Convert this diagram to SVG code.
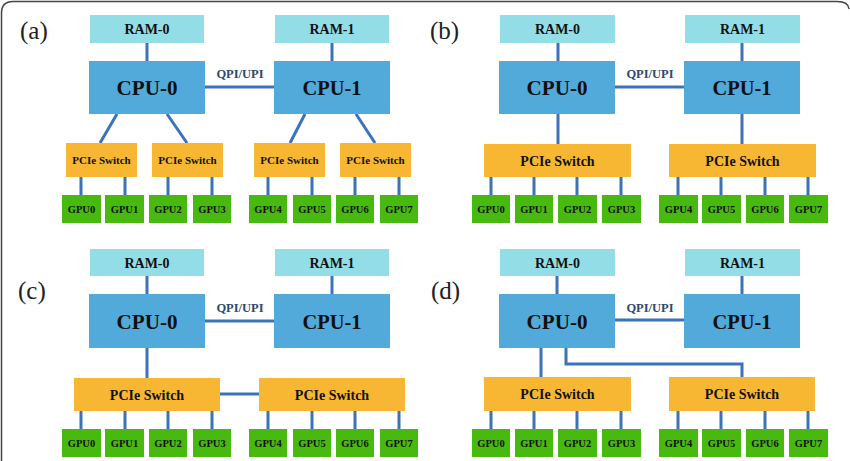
<svg xmlns="http://www.w3.org/2000/svg" width="850" height="461" viewBox="0 0 850 461" font-family="Liberation Serif, DejaVu Serif, serif">
<style>
.ram{fill:#93DEE6}
.cpu{fill:#52AADB}
.sw{fill:#F7B733}
.gpu{fill:#47B90F}
.ln{stroke:#3A73B9;stroke-width:3;fill:none}
text{font-family:'Liberation Serif','DejaVu Serif',serif;font-weight:bold;fill:#111;text-anchor:middle}
.tr{font-size:14px}
.tc{font-size:22px}
.ts{font-size:11px}
.tsb{font-size:14px}
.tg{font-size:10.5px}
.tq{font-size:12.5px;fill:#2F4A6B}
.lab{font-size:25px;font-weight:normal;text-anchor:start;fill:#222}
</style>
<rect width="850" height="461" fill="#fff"/>
<path d="M1.5,461 V13 Q1.5,1.5 13,1.5 H837 Q848.5,1.5 849,9" fill="none" stroke="#444" stroke-width="1.5"/>

<text class="lab" x="20" y="39">(a)</text>
<text class="lab" x="430" y="39">(b)</text>
<text class="lab" x="18" y="299">(c)</text>
<text class="lab" x="431" y="299">(d)</text>

<g id="connectors">
<line class="ln" x1="147" y1="43" x2="147" y2="61"/>
<line class="ln" x1="332" y1="43" x2="332" y2="61"/>
<line class="ln" x1="205" y1="87" x2="274" y2="87"/>
<line class="ln" x1="117" y1="114" x2="100" y2="143"/>
<line class="ln" x1="167" y1="114" x2="187" y2="143"/>
<line class="ln" x1="305" y1="114" x2="290" y2="143"/>
<line class="ln" x1="356" y1="114" x2="375" y2="143"/>
<path class="ln" d="M81,177V195M125,177V195M168,177V195M212,177V195M268,177V195M312,177V195M355,177V195M399,177V195"/>
<line class="ln" x1="558" y1="43" x2="558" y2="61"/>
<line class="ln" x1="742" y1="43" x2="742" y2="61"/>
<line class="ln" x1="615" y1="87" x2="684" y2="87"/>
<line class="ln" x1="558" y1="114" x2="558" y2="144"/>
<line class="ln" x1="742" y1="114" x2="742" y2="144"/>
<path class="ln" d="M491,177V195M534,177V195M577,177V195M621,177V195M678,177V195M721,177V195M765,177V195M808,177V195"/>
<line class="ln" x1="147" y1="276" x2="147" y2="294"/>
<line class="ln" x1="332" y1="276" x2="332" y2="294"/>
<line class="ln" x1="205" y1="321" x2="274" y2="321"/>
<line class="ln" x1="147" y1="348" x2="147" y2="378"/>
<line class="ln" x1="220" y1="394" x2="259" y2="394"/>
<path class="ln" d="M81,411V429M125,411V429M168,411V429M212,411V429M268,411V429M312,411V429M355,411V429M399,411V429"/>
<line class="ln" x1="557" y1="276" x2="557" y2="294"/>
<line class="ln" x1="742" y1="276" x2="742" y2="294"/>
<line class="ln" x1="615" y1="320" x2="684" y2="320"/>
<line class="ln" x1="541" y1="348" x2="541" y2="377"/>
<path class="ln" d="M566,348V364H742V377"/>
<path class="ln" d="M491,411V429M534,411V429M577,411V429M621,411V429M678,411V429M721,411V429M765,411V429M808,411V429"/>
</g>

<text class="tq" x="240" y="78">QPI/UPI</text>
<text class="tq" x="650" y="78">QPI/UPI</text>
<text class="tq" x="240" y="312">QPI/UPI</text>
<text class="tq" x="650" y="312">QPI/UPI</text>

<g id="a-ram0"><rect class="ram" x="90" y="15" width="114" height="28"/><text class="tr" x="147" y="34">RAM-0</text></g>
<g id="a-ram1"><rect class="ram" x="275" y="15" width="114" height="28"/><text class="tr" x="332" y="34">RAM-1</text></g>
<g id="a-cpu0"><rect class="cpu" x="89" y="61" width="116" height="53"/><text class="tc" x="147" y="95" textLength="61" lengthAdjust="spacingAndGlyphs">CPU-0</text></g>
<g id="a-cpu1"><rect class="cpu" x="274" y="61" width="116" height="53"/><text class="tc" x="332" y="95" textLength="59" lengthAdjust="spacingAndGlyphs">CPU-1</text></g>
<g id="a-sw0"><rect class="sw" x="66" y="143" width="71" height="34"/><text class="ts" x="101.5" y="164">PCIe Switch</text></g>
<g id="a-sw1"><rect class="sw" x="152" y="143" width="71" height="34"/><text class="ts" x="187.5" y="164">PCIe Switch</text></g>
<g id="a-sw2"><rect class="sw" x="254" y="143" width="71" height="34"/><text class="ts" x="289.5" y="164">PCIe Switch</text></g>
<g id="a-sw3"><rect class="sw" x="340" y="143" width="71" height="34"/><text class="ts" x="375.5" y="164">PCIe Switch</text></g>
<g id="a-gpu0"><rect class="gpu" x="62" y="195" width="39" height="28"/><text class="tg" x="81.5" y="213">GPU0</text></g>
<g id="a-gpu1"><rect class="gpu" x="105" y="195" width="39" height="28"/><text class="tg" x="124.5" y="213">GPU1</text></g>
<g id="a-gpu2"><rect class="gpu" x="149" y="195" width="38" height="28"/><text class="tg" x="168" y="213">GPU2</text></g>
<g id="a-gpu3"><rect class="gpu" x="193" y="195" width="38" height="28"/><text class="tg" x="212" y="213">GPU3</text></g>
<g id="a-gpu4"><rect class="gpu" x="249" y="195" width="38" height="28"/><text class="tg" x="268" y="213">GPU4</text></g>
<g id="a-gpu5"><rect class="gpu" x="293" y="195" width="38" height="28"/><text class="tg" x="312" y="213">GPU5</text></g>
<g id="a-gpu6"><rect class="gpu" x="336" y="195" width="38" height="28"/><text class="tg" x="355" y="213">GPU6</text></g>
<g id="a-gpu7"><rect class="gpu" x="380" y="195" width="38" height="28"/><text class="tg" x="399" y="213">GPU7</text></g>

<g id="b-ram0"><rect class="ram" x="500" y="15" width="115" height="28"/><text class="tr" x="557.5" y="34">RAM-0</text></g>
<g id="b-ram1"><rect class="ram" x="685" y="15" width="115" height="28"/><text class="tr" x="742.5" y="34">RAM-1</text></g>
<g id="b-cpu0"><rect class="cpu" x="499" y="61" width="116" height="53"/><text class="tc" x="557" y="95" textLength="61" lengthAdjust="spacingAndGlyphs">CPU-0</text></g>
<g id="b-cpu1"><rect class="cpu" x="684" y="61" width="116" height="53"/><text class="tc" x="742" y="95" textLength="59" lengthAdjust="spacingAndGlyphs">CPU-1</text></g>
<g id="b-sw0"><rect class="sw" x="484" y="144" width="147" height="33"/><text class="tsb" x="557.5" y="165.5">PCIe Switch</text></g>
<g id="b-sw1"><rect class="sw" x="669" y="144" width="147" height="33"/><text class="tsb" x="742.5" y="165.5">PCIe Switch</text></g>
<g id="b-gpu0"><rect class="gpu" x="472" y="195" width="38" height="28"/><text class="tg" x="491" y="213">GPU0</text></g>
<g id="b-gpu1"><rect class="gpu" x="515" y="195" width="38" height="28"/><text class="tg" x="534" y="213">GPU1</text></g>
<g id="b-gpu2"><rect class="gpu" x="558" y="195" width="39" height="28"/><text class="tg" x="577.5" y="213">GPU2</text></g>
<g id="b-gpu3"><rect class="gpu" x="602" y="195" width="39" height="28"/><text class="tg" x="621.5" y="213">GPU3</text></g>
<g id="b-gpu4"><rect class="gpu" x="659" y="195" width="39" height="28"/><text class="tg" x="678.5" y="213">GPU4</text></g>
<g id="b-gpu5"><rect class="gpu" x="702" y="195" width="39" height="28"/><text class="tg" x="721.5" y="213">GPU5</text></g>
<g id="b-gpu6"><rect class="gpu" x="746" y="195" width="38" height="28"/><text class="tg" x="765" y="213">GPU6</text></g>
<g id="b-gpu7"><rect class="gpu" x="789" y="195" width="39" height="28"/><text class="tg" x="808.5" y="213">GPU7</text></g>

<g id="c-ram0"><rect class="ram" x="90" y="249" width="114" height="27"/><text class="tr" x="147" y="267.5">RAM-0</text></g>
<g id="c-ram1"><rect class="ram" x="275" y="249" width="114" height="27"/><text class="tr" x="332" y="267.5">RAM-1</text></g>
<g id="c-cpu0"><rect class="cpu" x="89" y="294" width="116" height="54"/><text class="tc" x="147" y="329" textLength="61" lengthAdjust="spacingAndGlyphs">CPU-0</text></g>
<g id="c-cpu1"><rect class="cpu" x="274" y="294" width="116" height="54"/><text class="tc" x="332" y="329" textLength="59" lengthAdjust="spacingAndGlyphs">CPU-1</text></g>
<g id="c-sw0"><rect class="sw" x="74" y="378" width="146" height="33"/><text class="tsb" x="147" y="399.5">PCIe Switch</text></g>
<g id="c-sw1"><rect class="sw" x="259" y="378" width="146" height="33"/><text class="tsb" x="332" y="399.5">PCIe Switch</text></g>
<g id="c-gpu0"><rect class="gpu" x="62" y="429" width="39" height="28"/><text class="tg" x="81.5" y="447">GPU0</text></g>
<g id="c-gpu1"><rect class="gpu" x="105" y="429" width="39" height="28"/><text class="tg" x="124.5" y="447">GPU1</text></g>
<g id="c-gpu2"><rect class="gpu" x="149" y="429" width="38" height="28"/><text class="tg" x="168" y="447">GPU2</text></g>
<g id="c-gpu3"><rect class="gpu" x="193" y="429" width="38" height="28"/><text class="tg" x="212" y="447">GPU3</text></g>
<g id="c-gpu4"><rect class="gpu" x="249" y="429" width="38" height="28"/><text class="tg" x="268" y="447">GPU4</text></g>
<g id="c-gpu5"><rect class="gpu" x="293" y="429" width="38" height="28"/><text class="tg" x="312" y="447">GPU5</text></g>
<g id="c-gpu6"><rect class="gpu" x="336" y="429" width="38" height="28"/><text class="tg" x="355" y="447">GPU6</text></g>
<g id="c-gpu7"><rect class="gpu" x="380" y="429" width="38" height="28"/><text class="tg" x="399" y="447">GPU7</text></g>

<g id="d-ram0"><rect class="ram" x="500" y="249" width="115" height="27"/><text class="tr" x="557.5" y="267.5">RAM-0</text></g>
<g id="d-ram1"><rect class="ram" x="685" y="249" width="115" height="27"/><text class="tr" x="742.5" y="267.5">RAM-1</text></g>
<g id="d-cpu0"><rect class="cpu" x="499" y="294" width="116" height="54"/><text class="tc" x="557" y="329" textLength="61" lengthAdjust="spacingAndGlyphs">CPU-0</text></g>
<g id="d-cpu1"><rect class="cpu" x="684" y="294" width="116" height="54"/><text class="tc" x="742" y="329" textLength="59" lengthAdjust="spacingAndGlyphs">CPU-1</text></g>
<g id="d-sw0"><rect class="sw" x="484" y="377" width="147" height="34"/><text class="tsb" x="557.5" y="399">PCIe Switch</text></g>
<g id="d-sw1"><rect class="sw" x="669" y="377" width="146" height="34"/><text class="tsb" x="742" y="399">PCIe Switch</text></g>
<g id="d-gpu0"><rect class="gpu" x="472" y="429" width="38" height="28"/><text class="tg" x="491" y="447">GPU0</text></g>
<g id="d-gpu1"><rect class="gpu" x="515" y="429" width="38" height="28"/><text class="tg" x="534" y="447">GPU1</text></g>
<g id="d-gpu2"><rect class="gpu" x="558" y="429" width="39" height="28"/><text class="tg" x="577.5" y="447">GPU2</text></g>
<g id="d-gpu3"><rect class="gpu" x="602" y="429" width="39" height="28"/><text class="tg" x="621.5" y="447">GPU3</text></g>
<g id="d-gpu4"><rect class="gpu" x="659" y="429" width="39" height="28"/><text class="tg" x="678.5" y="447">GPU4</text></g>
<g id="d-gpu5"><rect class="gpu" x="702" y="429" width="39" height="28"/><text class="tg" x="721.5" y="447">GPU5</text></g>
<g id="d-gpu6"><rect class="gpu" x="746" y="429" width="38" height="28"/><text class="tg" x="765" y="447">GPU6</text></g>
<g id="d-gpu7"><rect class="gpu" x="789" y="429" width="39" height="28"/><text class="tg" x="808.5" y="447">GPU7</text></g>
</svg>
